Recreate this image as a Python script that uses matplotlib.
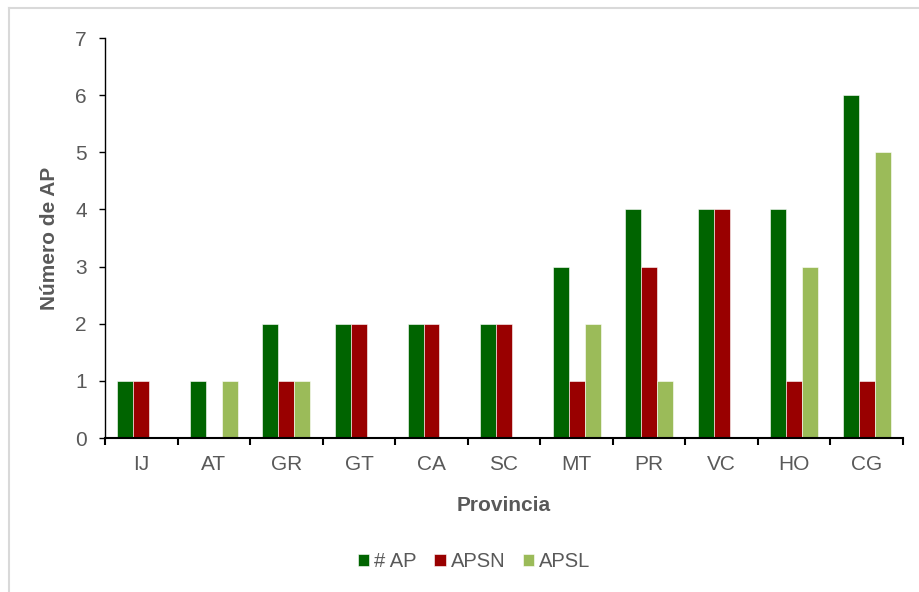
import numpy as np
import matplotlib
matplotlib.use("Agg")
import matplotlib.pyplot as plt
from matplotlib.lines import Line2D

plt.rcParams['font.family'] = ['Liberation Sans', 'DejaVu Sans']

provincias = ['IJ', 'AT', 'GR', 'GT', 'CA', 'SC', 'MT', 'PR', 'VC', 'HO', 'CG']
n_ap = [1, 1, 2, 2, 2, 2, 3, 4, 4, 4, 6]
apsn = [1, 0, 1, 2, 2, 2, 1, 3, 4, 1, 1]
apsl = [0, 1, 1, 0, 0, 0, 2, 1, 0, 3, 5]

series = [('# AP', n_ap, '#006400'),
          ('APSN', apsn, '#990000'),
          ('APSL', apsl, '#9BBB59')]

gray = '#595959'

fig = plt.figure(figsize=(9.19, 5.92), dpi=100)
ax = fig.add_axes([0.1143, 0.260, 0.8683, 0.6758])

x = np.arange(len(provincias))
w = 0.22
for i, (name, vals, col) in enumerate(series):
    ax.bar(x + (i - 1) * w, vals, w, color=col, label=name,
           edgecolor='white', linewidth=0.4)

ax.set_xlim(-0.5, len(provincias) - 0.5)
ax.set_ylim(0, 7)
ax.set_yticks(range(0, 8))
ax.set_xticks(x)
ax.set_xticklabels(provincias)
ax.set_xticks(np.arange(-0.5, len(provincias)), minor=True)
ax.tick_params(axis='x', which='major', length=0, pad=12, labelsize=15, labelcolor=gray)
ax.tick_params(axis='x', which='minor', length=5, width=1.5, color='black')
ax.tick_params(axis='y', length=4.5, width=1, color='black', labelsize=15,
               labelcolor=gray, pad=8.5)

for s in ['top', 'right']:
    ax.spines[s].set_visible(False)
ax.spines['left'].set_linewidth(1)
ax.spines['bottom'].set_linewidth(1.5)

ax.set_ylabel('Número de AP', fontsize=15, fontweight='bold', color=gray, labelpad=12)
ax.set_xlabel('Provincia', fontsize=15, fontweight='bold', color=gray, labelpad=16)

leg = fig.legend(loc='center', bbox_to_anchor=(0.516, 0.0515), ncol=3, frameon=False,
                 fontsize=14.5, handlelength=0.55, handleheight=0.55, handletextpad=0.25,
                 columnspacing=0.9, labelcolor=gray)

# light chart-area border (only top and left visible)
fig.add_artist(Line2D([9 / 919, 1.0], [1 - 8 / 592, 1 - 8 / 592], transform=fig.transFigure,
                      color='#D9D9D9', linewidth=1.5))
fig.add_artist(Line2D([9 / 919, 9 / 919], [0.0, 1 - 8 / 592], transform=fig.transFigure,
                      color='#D9D9D9', linewidth=1.5))

fig.savefig('out.png', dpi=100)
